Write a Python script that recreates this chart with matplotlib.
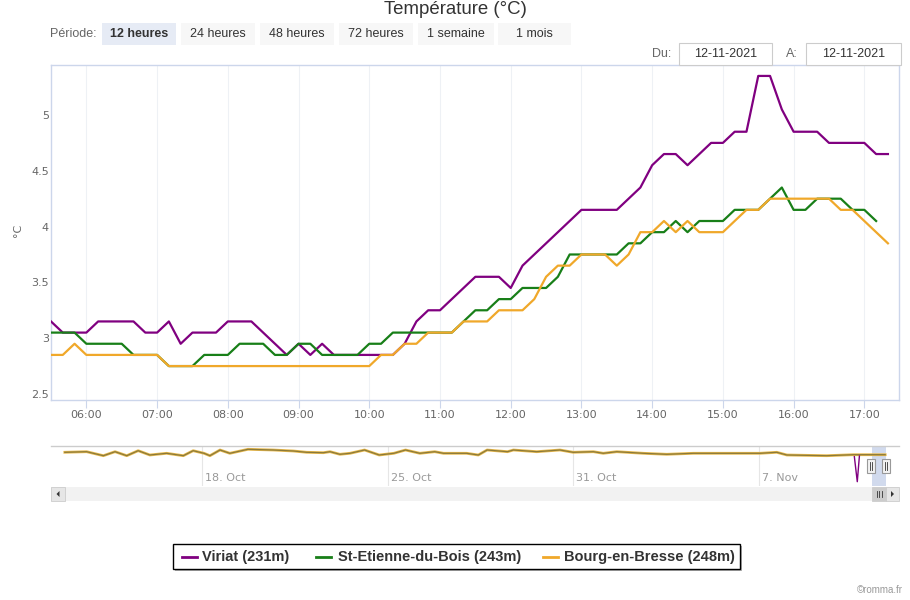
import matplotlib
matplotlib.use("Agg")
import matplotlib.pyplot as plt
import matplotlib.patches as mpatches
from matplotlib.lines import Line2D
import matplotlib.transforms as mtransforms
import pandas as pd

# ---------------- data ----------------
times = pd.date_range("2021-11-12 05:30", "2021-11-12 17:20", freq="10min")
hours = list(times.hour + times.minute / 60.0)

viriat = [3.15, 3.05, 3.05, 3.05, 3.15, 3.15, 3.15, 3.15, 3.05, 3.05,
          3.15, 2.95, 3.05, 3.05, 3.05, 3.15, 3.15, 3.15, 3.05, 2.95,
          2.85, 2.95, 2.85, 2.95, 2.85, 2.85, 2.85, 2.85, 2.85, 2.85,
          2.95, 3.15, 3.25, 3.25, 3.35, 3.45, 3.55, 3.55, 3.55, 3.45,
          3.65, 3.75, 3.85, 3.95, 4.05, 4.15, 4.15, 4.15, 4.15, 4.25,
          4.35, 4.55, 4.65, 4.65, 4.55, 4.65, 4.75, 4.75, 4.85, 4.85,
          5.35, 5.35, 5.05, 4.85, 4.85, 4.85, 4.75, 4.75, 4.75, 4.75,
          4.65, 4.65]

st_etienne = [3.05, 3.05, 3.05, 2.95, 2.95, 2.95, 2.95, 2.85, 2.85, 2.85,
              2.75, 2.75, 2.75, 2.85, 2.85, 2.85, 2.95, 2.95, 2.95, 2.85,
              2.85, 2.95, 2.95, 2.85, 2.85, 2.85, 2.85, 2.95, 2.95, 3.05,
              3.05, 3.05, 3.05, 3.05, 3.05, 3.15, 3.25, 3.25, 3.35, 3.35,
              3.45, 3.45, 3.45, 3.55, 3.75, 3.75, 3.75, 3.75, 3.75, 3.85,
              3.85, 3.95, 3.95, 4.05, 3.95, 4.05, 4.05, 4.05, 4.15, 4.15,
              4.15, 4.25, 4.35, 4.15, 4.15, 4.25, 4.25, 4.25, 4.15, 4.15,
              4.05]

bourg = [2.85, 2.85, 2.95, 2.85, 2.85, 2.85, 2.85, 2.85, 2.85, 2.85,
         2.75, 2.75, 2.75, 2.75, 2.75, 2.75, 2.75, 2.75, 2.75, 2.75,
         2.75, 2.75, 2.75, 2.75, 2.75, 2.75, 2.75, 2.75, 2.85, 2.85,
         2.95, 2.95, 3.05, 3.05, 3.05, 3.15, 3.15, 3.15, 3.25, 3.25,
         3.25, 3.35, 3.55, 3.65, 3.65, 3.75, 3.75, 3.75, 3.65, 3.75,
         3.95, 3.95, 4.05, 3.95, 4.05, 3.95, 3.95, 3.95, 4.05, 4.15,
         4.15, 4.25, 4.25, 4.25, 4.25, 4.25, 4.25, 4.15, 4.15, 4.05,
         3.95, 3.85]

series_names = ["Viriat (231m)", "St-Etienne-du-Bois (243m)", "Bourg-en-Bresse (248m)"]
series_colors = ["#800080", "#187f18", "#f0a82a"]

x_ticks = [6, 7, 8, 9, 10, 11, 12, 13, 14, 15, 16, 17]
x_tick_labels = ["06:00", "07:00", "08:00", "09:00", "10:00", "11:00",
                 "12:00", "13:00", "14:00", "15:00", "16:00", "17:00"]
y_ticks = [2.5, 3, 3.5, 4, 4.5, 5]
y_tick_labels = ["2.5", "3", "3.5", "4", "4.5", "5"]

# navigator (days since 18 Oct 00:00, overview temperature)
nav_days = [-5.16, -4.34, -3.71, -3.27, -2.83, -2.40, -1.96, -1.33, -0.70, -0.33,
            0.08, 0.30, 0.68, 1.05, 1.73, 2.68, 3.44, 3.94, 4.57, 4.82,
            5.19, 5.57, 6.12, 6.67, 7.22, 7.66, 8.20, 8.76, 9.09, 9.96,
            10.40, 10.73, 11.50, 11.72, 12.60, 13.47, 13.97, 14.73, 15.10, 15.61,
            16.61, 17.49, 18.49, 19.62, 20.50, 21.00, 21.63, 22.01, 23.51, 24.51,
            25.71]
nav_temp = [6.7, 7.3, 3.3, 7.3, 3.3, 8.3, 4.0, 5.7, 3.3, 8.3,
            5.7, 3.3, 9.0, 5.7, 9.7, 9.0, 8.0, 6.7, 6.3, 7.3,
            4.7, 5.7, 9.0, 4.0, 5.7, 9.0, 5.7, 7.3, 5.7, 5.7,
            4.0, 9.0, 7.3, 9.0, 7.3, 9.0, 6.7, 7.3, 5.7, 7.3,
            5.7, 4.7, 5.7, 5.7, 5.7, 5.7, 6.7, 4.0, 3.3, 4.3,
            4.3]
nav_dip_days = [24.55, 24.66, 24.74]
nav_dip_temp = [2.3, -22.7, 3.0]
nav_tick_days = [0, 7, 13.96, 20.96]
nav_tick_labels = ["18. Oct", "25. Oct", "31. Oct", "7. Nov"]
nav_sel = [25.229, 25.729]

periods = ["12 heures", "24 heures", "48 heures", "72 heures", "1 semaine", "1 mois"]
date_from = "12-11-2021"
date_to = "12-11-2021"

# ---------------- figure ----------------
W, H = 910, 600
fig = plt.figure(figsize=(W / 100, H / 100), dpi=100)
fig.patch.set_facecolor("white")

def fx(x):
    return x / W

def fy(y):
    return 1 - y / H

NARROW = ["Liberation Sans", "DejaVu Sans"]
TXT = "#333333"
GRAY = "#666666"
UI = 9

# ---------- main chart ----------
ax = fig.add_axes([fx(51), fy(400), fx(899) - fx(51), fy(65) - fy(400)])
ax.plot(hours, viriat, color=series_colors[0], lw=1.6, solid_joinstyle="round", zorder=3)
ax.plot(hours[:len(st_etienne)], st_etienne, color=series_colors[1], lw=1.6,
        solid_joinstyle="round", zorder=4)
ax.plot(hours, bourg, color=series_colors[2], lw=1.6, solid_joinstyle="round", zorder=5)
ax.set_xlim(5.5, 17.49)
ax.set_ylim(2.446, 5.448)
ax.set_xticks(x_ticks)
ax.set_xticklabels(x_tick_labels)
ax.set_yticks(y_ticks)
ax.set_yticklabels(y_tick_labels)
ax.tick_params(axis="x", length=5.8, width=0.8, color="#ccd6eb", labelcolor=GRAY,
               labelsize=8, pad=1.5)
ax.tick_params(axis="y", length=0, labelcolor=GRAY, labelsize=8, pad=1.5)
ax.grid(axis="x", color="#eef1f5", lw=0.8)
ax.grid(axis="y", visible=False)
for s in ax.spines.values():
    s.set_color("#ccd6eb")
    s.set_linewidth(1.0)
fig.text(fx(18), fy(230), "°C", rotation=90, ha="center", va="center",
         color=GRAY, fontsize=8)

# ---------- navigator ----------
nav = fig.add_axes([fx(51), fy(486), fx(899) - fx(51), fy(446) - fy(486)])
nav.set_xlim(-5.68, 26.23)
nav.set_ylim(-27, 13)
nav.plot(nav_days, nav_temp, color="#e8b84c", lw=2.0, zorder=3)
nav.plot(nav_days, nav_temp, color="#8a7a3a", lw=0.9, zorder=4)
nav.plot(nav_dip_days, nav_dip_temp, color=series_colors[0], lw=1.0, zorder=5)
nav.set_xticks([])
nav.set_yticks([])
for k, s in nav.spines.items():
    s.set_visible(k == "top")
nav.spines["top"].set_color("#cccccc")
nav.spines["top"].set_linewidth(1.0)
blend = mtransforms.blended_transform_factory(nav.transData, nav.transAxes)
for d, lab in zip(nav_tick_days, nav_tick_labels):
    nav.axvline(d, color="#e6e6e6", lw=0.8, zorder=1)
    nav.text(d + 0.12, 0.2, lab, transform=blend, ha="left", va="center",
             color="#999999", fontsize=8)
nav.axvspan(nav_sel[0], nav_sel[1], color="#ccd6eb", alpha=0.9, zorder=2, lw=0)

def rect_px(x0, y0, x1, y1, fc, ec="none", lw=0.8, z=10):
    r = mpatches.Rectangle((fx(x0), fy(y1)), fx(x1) - fx(x0), fy(y0) - fy(y1),
                           transform=fig.transFigure, facecolor=fc, edgecolor=ec,
                           lw=lw, zorder=z)
    fig.add_artist(r)
    return r

def line_px(x0, y0, x1, y1, color, lw=0.8, z=11):
    fig.add_artist(Line2D([fx(x0), fx(x1)], [fy(y0), fy(y1)], color=color, lw=lw,
                          transform=fig.transFigure, zorder=z))

# navigator handles
for hx in (867, 882):
    rect_px(hx, 459, hx + 7.5, 473, "#f2f2f2", "#999999", 0.8)
    line_px(hx + 2.8, 462, hx + 2.8, 470, "#333333", 0.6)
    line_px(hx + 4.7, 462, hx + 4.7, 470, "#333333", 0.6)

# scrollbar
rect_px(51, 487, 899, 501, "#f2f2f2", "none")
rect_px(51, 487, 65, 501, "#e6e6e6", "#cccccc", 0.6)
rect_px(886, 487, 899, 501, "#e6e6e6", "#cccccc", 0.6)
rect_px(872, 487, 886, 501, "#cccccc", "#cccccc", 0.6)
for gx in (876.5, 879, 881.5):
    line_px(gx, 491, gx, 497, "#333333", 0.6, 12)
fig.add_artist(mpatches.Polygon([[fx(59.5), fy(491)], [fx(59.5), fy(497)], [fx(56.5), fy(494)]],
                                closed=True, transform=fig.transFigure, fc="#333333",
                                ec="none", zorder=12))
fig.add_artist(mpatches.Polygon([[fx(891), fy(491)], [fx(891), fy(497)], [fx(894), fy(494)]],
                                closed=True, transform=fig.transFigure, fc="#333333",
                                ec="none", zorder=12))

# ---------- title & controls ----------
fig.text(fx(455), fy(10), "Température (°C)", ha="center", va="center",
         color=TXT, fontsize=13.4, family=NARROW)
fig.text(fx(50), fy(34), "Période:", ha="left", va="center", color=GRAY,
         fontsize=UI, family=NARROW)
btn_x = [(102, 176), (181, 255), (260, 334), (339, 413), (418, 494), (498, 571)]
for i, (lab, (x0, x1)) in enumerate(zip(periods, btn_x)):
    sel = i == 0
    rect_px(x0, 23, x1, 45, "#e6ebf5" if sel else "#f7f7f7", "none")
    fig.text(fx((x0 + x1) / 2), fy(34), lab, ha="center", va="center", color=TXT,
             fontsize=UI, family=NARROW, weight="bold" if sel else "normal", zorder=12)
fig.text(fx(652), fy(54), "Du:", ha="left", va="center", color=GRAY,
         fontsize=UI, family=NARROW)
rect_px(679, 43, 772, 65, "white", "#cccccc", 0.8)
fig.text(fx(725.5), fy(54), date_from, ha="center", va="center", color=TXT,
         fontsize=UI, family=NARROW, zorder=12)
fig.text(fx(786), fy(54), "A:", ha="left", va="center", color=GRAY,
         fontsize=UI, family=NARROW)
rect_px(806, 43, 901, 65, "white", "#cccccc", 0.8)
fig.text(fx(853.5), fy(54), date_to, ha="center", va="center", color=TXT,
         fontsize=UI, family=NARROW, zorder=12)

# ---------- legend ----------
rect_px(175, 546, 742, 571, "#b0b0b0", "none", z=9)
rect_px(173, 544, 740, 569, "white", "black", 1.0, z=10)
leg_items = [(182, 202), (316, 338), (543, 564)]
for (lx, tx), name, col in zip(leg_items, series_names, series_colors):
    line_px(lx, 557, lx + 15, 557, col, 2.0, 12)
    fig.text(fx(tx), fy(557), name, ha="left", va="center", color=TXT,
             fontsize=10.5, family=NARROW, weight="bold", zorder=12)

fig.text(fx(903), fy(590), "©romma.fr", ha="right", va="center", color="#999999",
         fontsize=7, family=NARROW)

fig.savefig("out.png", dpi=100, facecolor="white")
